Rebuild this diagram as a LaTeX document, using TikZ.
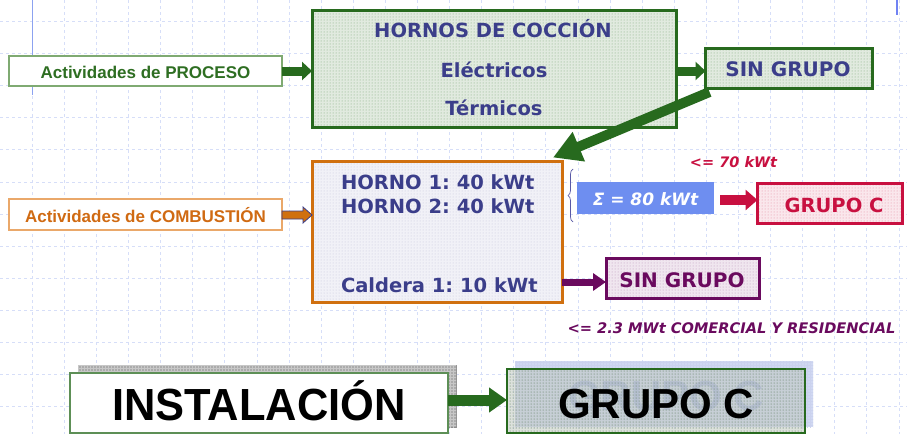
\documentclass[tikz,border=0pt]{standalone}
\usepackage{fontspec}
\usepackage{graphicx}
\setmainfont{Liberation Sans}
\newfontfamily\tah{DejaVu Sans}
\usetikzlibrary{arrows.meta,calc,patterns,decorations.pathreplacing}
\frenchspacing
\definecolor{dkgreen}{HTML}{276A1E}
\definecolor{txtgreen}{HTML}{2E6E22}
\definecolor{procborder}{HTML}{7FAA72}
\definecolor{navy}{HTML}{3B3E8A}
\definecolor{orng}{HTML}{D0700F}
\definecolor{lorng}{HTML}{EAA86A}
\definecolor{orngtxt}{HTML}{D06A12}
\definecolor{sigblue}{HTML}{6E8EF0}
\definecolor{redc}{HTML}{C81040}
\definecolor{purp}{HTML}{6A0A5E}
\definecolor{gridc}{HTML}{D6DEF8}
\definecolor{bluel}{HTML}{8CA2F0}
\definecolor{ghost}{HTML}{A8B4E2}
\definecolor{ghostbox}{HTML}{D0D8F2}
\tikzset{
  gridline/.style={gridc, line width=0.6pt, dash pattern=on 3pt off 3pt},
  box/.style={rectangle, inner sep=0pt, outer sep=0pt},
  txt/.style={inner sep=0pt, outer sep=0pt, anchor=base},
  navyfont/.style={navy, font=\tah\bfseries\fontsize{19.5}{22}\selectfont},
  greenpat/.style={preaction={fill=dkgreen!14}, pattern=dots, pattern color=dkgreen!60},
  bluepat/.style={preaction={fill=navy!7}, pattern=dots, pattern color=navy!30},
  redpat/.style={preaction={fill=redc!10}, pattern=dots, pattern color=redc!50},
  purppat/.style={preaction={fill=purp!10}, pattern=dots, pattern color=purp!45},
  garrow/.style={dkgreen, line width=9pt, -{Triangle[length=10pt,width=18pt]}},
}
\begin{document}
\begin{tikzpicture}[x=1pt,y=-1pt]
\useasboundingbox[fill=white] (0,0) rectangle (907,434);
% background grid
\foreach \i in {1,...,28} \draw[gridline] (32.1*\i,0) -- (32.1*\i,434);
\foreach \j in {0,...,12} \draw[gridline] (0,21.3+32.1*\j) -- (907,21.3+32.1*\j);
\draw[bluel, line width=1.2pt] (32.2,0) -- (32.2,95);
\draw[bluel!80!blue, line width=1.2pt] (897,0) -- (897,15);

% top row
\node[box, draw=procborder, line width=1.2pt, fill=white, minimum width=273pt, minimum height=30pt] (proc) at (145.5,71) {};
\node[txt, txtgreen, font=\bfseries\fontsize{17}{20}\selectfont] (proct) at (145.5,78) {Actividades de PROCESO};
\node[box, draw=dkgreen, line width=3pt, greenpat, minimum width=364pt, minimum height=117pt] (hornos) at (494,68.5) {};
\node[txt, navyfont] (ht1) at (493,37.5) {HORNOS DE COCCIÓN};
\node[txt, navyfont] (ht2) at (494,77) {Eléctricos};
\node[txt, navyfont] (ht3) at (494,115) {Térmicos};
\node[box, draw=dkgreen, line width=3pt, greenpat, minimum width=167pt, minimum height=40pt] (sg1) at (789,68) {};
\node[txt, navyfont, font=\tah\bfseries\fontsize{20}{22}\selectfont] (sg1t) at (788,76) {SIN GRUPO};
\draw[garrow] (proc.east |- 0,71) -- (hornos.west |- 0,71);
\draw[garrow] (hornos.east |- 0,71) -- (sg1.west |- 0,71);

% combustion
\node[box, draw=lorng, line width=1.2pt, fill=white, minimum width=273pt, minimum height=31pt] (comb) at (145.5,214.5) {};
\node[txt, orngtxt, font=\bfseries\fontsize{17}{20}\selectfont] (combt) at (145.5,222) {Actividades de COMBUSTIÓN};
\node[box, draw=orng, line width=3pt, bluepat, minimum width=250pt, minimum height=141pt] (hb) at (437,232) {};
\node[txt, navyfont, anchor=base west] (h1) at (341,189) {HORNO 1: 40 kWt};
\node[txt, navyfont, anchor=base west] (h2) at (341,213) {HORNO 2: 40 kWt};
\node[txt, navyfont, anchor=base west] (cal) at (341,292) {Caldera 1: 10 kWt};
\coordinate (oa) at (comb.east |- 0,215);
\coordinate (ob) at (hb.west |- 0,215);
\draw[navy, fill=orng, line width=0.8pt, line join=miter]
  ($(oa)+(0,-4)$) -- ($(ob)+(-9,-4)$) -- ($(ob)+(-9,-8)$) -- (ob)
  -- ($(ob)+(-9,8)$) -- ($(ob)+(-9,4)$) -- ($(oa)+(0,4)$) -- cycle;

% diagonal arrow
\draw[dkgreen, line width=10pt, -{Triangle[length=28pt,width=30pt]}]
  ($(sg1.south west)+(4,4)$) -- ($(hb.north east)+(-9,-4)$);

% brace and sum
\draw[gray!70!blue, line width=0.7pt, decorate, decoration={brace, amplitude=5pt}] (573,222) -- (573,169);
\node[box, fill=sigblue, minimum width=137pt, minimum height=32pt] (sig) at (645.5,198) {};
\node[txt, white, font=\tah\bfseries\itshape\fontsize{17}{20}\selectfont] (sigt) at (645.5,205) {Σ = 80 kWt};
\node[txt, redc, font=\tah\bfseries\itshape\fontsize{14.5}{17}\selectfont] (lim70) at (733.5,167) {<= 70 kWt};
\node[box, draw=redc, line width=3pt, redpat, minimum width=145pt, minimum height=40pt] (gc) at (830,203) {};
\node[txt, redc, font=\tah\bfseries\fontsize{19.5}{22}\selectfont] (gct) at (834,212) {GRUPO C};
\draw[redc, line width=10pt, -{Triangle[length=12pt,width=20pt]}] (sig.east |- 0,200) ++(6,0) -- (gc.west |- 0,200);

% caldera path
\node[box, draw=purp, line width=3pt, purppat, minimum width=153pt, minimum height=40pt] (sg2) at (682.5,278) {};
\node[txt, purp, font=\tah\bfseries\fontsize{20}{22}\selectfont] (sg2t) at (682,287) {SIN GRUPO};
\draw[purp, line width=7pt, -{Triangle[length=13pt,width=17pt]}] (hb.east |- 0,282) -- (sg2.west |- 0,282);
\node[txt, purp, font=\tah\bfseries\itshape\fontsize{14.6}{17}\selectfont] (lim23) at (731.5,333) {<= 2.3 MWt COMERCIAL Y RESIDENCIAL};

% bottom
\path[fill=black!33, draw=black!45, line width=0.5pt] (78,365) rectangle (456,427);
\path[pattern=grid, pattern color=black!22] (78,365) rectangle (456,427);
\node[box, draw=dkgreen!75!white, line width=1.2pt, fill=white, minimum width=378pt, minimum height=60pt] (inst) at (259,403) {};
\node[txt, black, font=\bfseries\fontsize{45}{50}\selectfont] (instt) at (259,420) {\scalebox{0.965}[1]{INSTALACIÓN}};
\path[fill=ghostbox] (515,361) rectangle (813,427);
\path[pattern=grid, pattern color=ghost!60] (515,361) rectangle (813,427);
\node[txt, ghost, font=\bfseries\fontsize{42}{46}\selectfont] (ghostt) at (666,410) {GRUPO C};
\node[box, draw=dkgreen, line width=2.5pt, preaction={fill=dkgreen!30!gray!40, fill opacity=0.55}, pattern=dots, pattern color=dkgreen!50!gray, minimum width=298pt, minimum height=64pt] (gcb) at (656,401) {};
\node[txt, black, font=\bfseries\fontsize{42}{46}\selectfont] (gcbt) at (656,418) {GRUPO C};
\draw[dkgreen, line width=11pt, -{Triangle[length=18pt,width=24pt]}] (inst.east |- 0,400) -- (gcb.west |- 0,400);
\end{tikzpicture}
\end{document}
